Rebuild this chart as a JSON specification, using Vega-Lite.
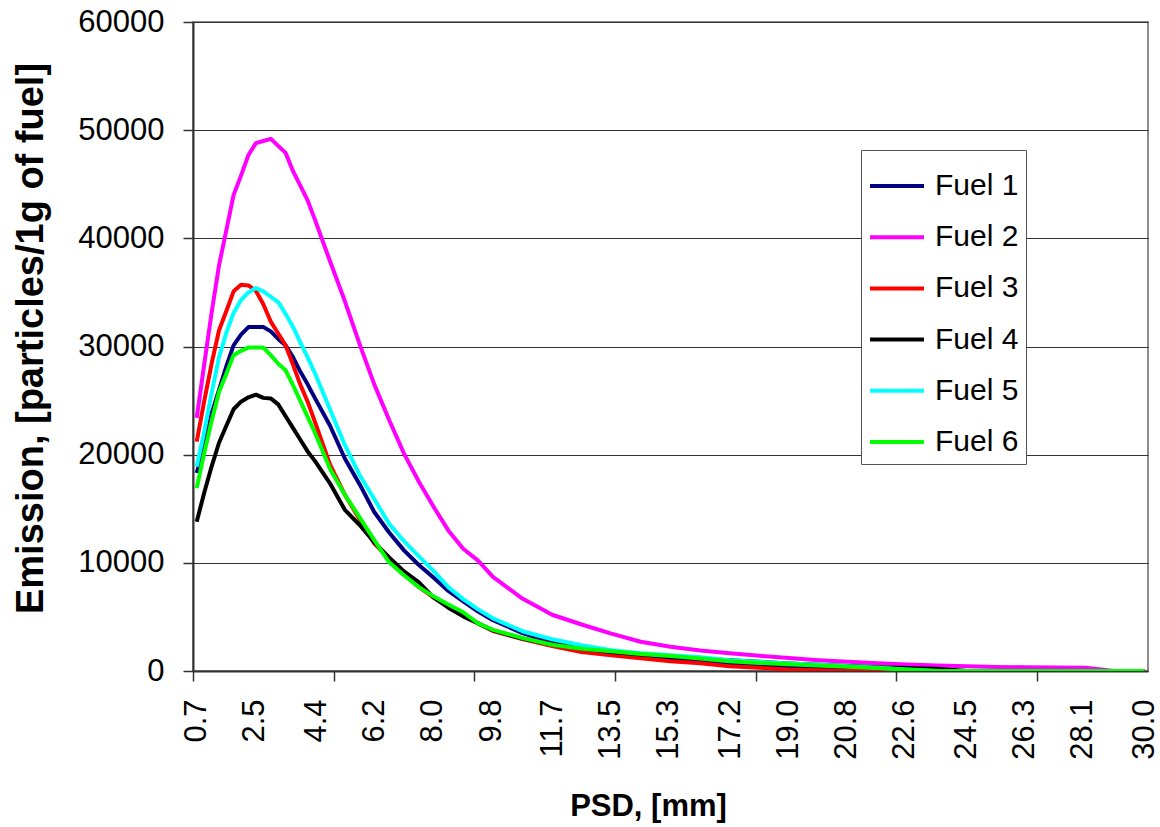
{
  "$schema": "https://vega.github.io/schema/vega-lite/v6.json",
  "autosize": "none",
  "width": 955,
  "height": 649,
  "padding": {"left": 193, "top": 22, "right": 12, "bottom": 156},
  "background": "white",
  "config": {
    "view": {"stroke": "#8c8c8c", "strokeWidth": 2},
    "font": "Liberation Sans"
  },
  "datasets": {
    "psd": [
      {"x":0.70,"s":"Fuel 1","y":18300},{"x":0.93,"s":"Fuel 1","y":20700},{"x":1.16,"s":"Fuel 1","y":23800},{"x":1.39,"s":"Fuel 1","y":26000},{"x":1.62,"s":"Fuel 1","y":28200},{"x":1.84,"s":"Fuel 1","y":30100},{"x":2.07,"s":"Fuel 1","y":31100},{"x":2.30,"s":"Fuel 1","y":31800},{"x":2.53,"s":"Fuel 1","y":31800},{"x":2.76,"s":"Fuel 1","y":31800},{"x":2.99,"s":"Fuel 1","y":31400},{"x":3.22,"s":"Fuel 1","y":30700},{"x":3.45,"s":"Fuel 1","y":30100},{"x":3.68,"s":"Fuel 1","y":29000},{"x":3.90,"s":"Fuel 1","y":27700},{"x":4.13,"s":"Fuel 1","y":26500},{"x":4.36,"s":"Fuel 1","y":25200},{"x":4.82,"s":"Fuel 1","y":22700},{"x":5.28,"s":"Fuel 1","y":19650},{"x":5.74,"s":"Fuel 1","y":17250},{"x":6.19,"s":"Fuel 1","y":14700},{"x":6.65,"s":"Fuel 1","y":12800},{"x":7.11,"s":"Fuel 1","y":11150},{"x":7.57,"s":"Fuel 1","y":9800},{"x":8.02,"s":"Fuel 1","y":8650},{"x":8.48,"s":"Fuel 1","y":7400},{"x":8.94,"s":"Fuel 1","y":6450},{"x":9.40,"s":"Fuel 1","y":5500},{"x":9.86,"s":"Fuel 1","y":4700},{"x":10.77,"s":"Fuel 1","y":3500},{"x":11.69,"s":"Fuel 1","y":2650},{"x":12.60,"s":"Fuel 1","y":2100},{"x":13.52,"s":"Fuel 1","y":1650},{"x":14.43,"s":"Fuel 1","y":1350},{"x":15.35,"s":"Fuel 1","y":1100},{"x":16.27,"s":"Fuel 1","y":850},{"x":17.18,"s":"Fuel 1","y":650},{"x":18.10,"s":"Fuel 1","y":530},{"x":19.01,"s":"Fuel 1","y":430},{"x":19.93,"s":"Fuel 1","y":330},{"x":20.84,"s":"Fuel 1","y":250},{"x":21.76,"s":"Fuel 1","y":180},{"x":22.67,"s":"Fuel 1","y":110},{"x":23.59,"s":"Fuel 1","y":50},{"x":24.51,"s":"Fuel 1","y":0},{"x":25.42,"s":"Fuel 1","y":0},{"x":26.34,"s":"Fuel 1","y":0},{"x":27.26,"s":"Fuel 1","y":0},{"x":28.17,"s":"Fuel 1","y":0},{"x":29.08,"s":"Fuel 1","y":0},{"x":30.00,"s":"Fuel 1","y":0},

      {"x":0.70,"s":"Fuel 2","y":23400},{"x":0.93,"s":"Fuel 2","y":28300},{"x":1.16,"s":"Fuel 2","y":33100},{"x":1.39,"s":"Fuel 2","y":37500},{"x":1.62,"s":"Fuel 2","y":40800},{"x":1.84,"s":"Fuel 2","y":44000},{"x":2.07,"s":"Fuel 2","y":45800},{"x":2.30,"s":"Fuel 2","y":47700},{"x":2.53,"s":"Fuel 2","y":48800},{"x":2.76,"s":"Fuel 2","y":49000},{"x":2.99,"s":"Fuel 2","y":49200},{"x":3.22,"s":"Fuel 2","y":48550},{"x":3.45,"s":"Fuel 2","y":47900},{"x":3.68,"s":"Fuel 2","y":46200},{"x":3.90,"s":"Fuel 2","y":44900},{"x":4.13,"s":"Fuel 2","y":43500},{"x":4.36,"s":"Fuel 2","y":41700},{"x":4.82,"s":"Fuel 2","y":37900},{"x":5.28,"s":"Fuel 2","y":34200},{"x":5.74,"s":"Fuel 2","y":30200},{"x":6.19,"s":"Fuel 2","y":26500},{"x":6.65,"s":"Fuel 2","y":23200},{"x":7.11,"s":"Fuel 2","y":20100},{"x":7.57,"s":"Fuel 2","y":17500},{"x":8.02,"s":"Fuel 2","y":15200},{"x":8.48,"s":"Fuel 2","y":13000},{"x":8.94,"s":"Fuel 2","y":11300},{"x":9.40,"s":"Fuel 2","y":10200},{"x":9.86,"s":"Fuel 2","y":8700},{"x":10.77,"s":"Fuel 2","y":6700},{"x":11.69,"s":"Fuel 2","y":5200},{"x":12.60,"s":"Fuel 2","y":4300},{"x":13.52,"s":"Fuel 2","y":3450},{"x":14.43,"s":"Fuel 2","y":2700},{"x":15.35,"s":"Fuel 2","y":2250},{"x":16.27,"s":"Fuel 2","y":1900},{"x":17.18,"s":"Fuel 2","y":1650},{"x":18.10,"s":"Fuel 2","y":1400},{"x":19.01,"s":"Fuel 2","y":1200},{"x":19.93,"s":"Fuel 2","y":1000},{"x":20.84,"s":"Fuel 2","y":850},{"x":21.76,"s":"Fuel 2","y":720},{"x":22.67,"s":"Fuel 2","y":600},{"x":23.59,"s":"Fuel 2","y":500},{"x":24.51,"s":"Fuel 2","y":430},{"x":25.42,"s":"Fuel 2","y":380},{"x":26.34,"s":"Fuel 2","y":350},{"x":27.26,"s":"Fuel 2","y":330},{"x":28.17,"s":"Fuel 2","y":300},{"x":29.08,"s":"Fuel 2","y":0},{"x":30.00,"s":"Fuel 2","y":0},

      {"x":0.70,"s":"Fuel 3","y":21200},{"x":0.93,"s":"Fuel 3","y":24900},{"x":1.16,"s":"Fuel 3","y":28400},{"x":1.39,"s":"Fuel 3","y":31500},{"x":1.62,"s":"Fuel 3","y":33300},{"x":1.84,"s":"Fuel 3","y":35100},{"x":2.07,"s":"Fuel 3","y":35700},{"x":2.30,"s":"Fuel 3","y":35650},{"x":2.53,"s":"Fuel 3","y":35150},{"x":2.76,"s":"Fuel 3","y":33900},{"x":2.99,"s":"Fuel 3","y":32300},{"x":3.22,"s":"Fuel 3","y":31200},{"x":3.45,"s":"Fuel 3","y":30100},{"x":3.68,"s":"Fuel 3","y":28300},{"x":3.90,"s":"Fuel 3","y":26500},{"x":4.13,"s":"Fuel 3","y":24900},{"x":4.36,"s":"Fuel 3","y":23000},{"x":4.82,"s":"Fuel 3","y":19100},{"x":5.28,"s":"Fuel 3","y":16300},{"x":5.74,"s":"Fuel 3","y":14000},{"x":6.19,"s":"Fuel 3","y":11800},{"x":6.65,"s":"Fuel 3","y":10400},{"x":7.11,"s":"Fuel 3","y":9000},{"x":7.57,"s":"Fuel 3","y":7750},{"x":8.02,"s":"Fuel 3","y":6800},{"x":8.48,"s":"Fuel 3","y":6000},{"x":8.94,"s":"Fuel 3","y":5250},{"x":9.40,"s":"Fuel 3","y":4400},{"x":9.86,"s":"Fuel 3","y":3700},{"x":10.77,"s":"Fuel 3","y":2950},{"x":11.69,"s":"Fuel 3","y":2300},{"x":12.60,"s":"Fuel 3","y":1750},{"x":13.52,"s":"Fuel 3","y":1450},{"x":14.43,"s":"Fuel 3","y":1180},{"x":15.35,"s":"Fuel 3","y":900},{"x":16.27,"s":"Fuel 3","y":720},{"x":17.18,"s":"Fuel 3","y":430},{"x":18.10,"s":"Fuel 3","y":300},{"x":19.01,"s":"Fuel 3","y":150},{"x":19.93,"s":"Fuel 3","y":60},{"x":20.84,"s":"Fuel 3","y":0},{"x":21.76,"s":"Fuel 3","y":0},{"x":22.67,"s":"Fuel 3","y":0},{"x":23.59,"s":"Fuel 3","y":0},{"x":24.51,"s":"Fuel 3","y":0},{"x":25.42,"s":"Fuel 3","y":0},{"x":26.34,"s":"Fuel 3","y":0},{"x":27.26,"s":"Fuel 3","y":0},{"x":28.17,"s":"Fuel 3","y":0},{"x":29.08,"s":"Fuel 3","y":0},{"x":30.00,"s":"Fuel 3","y":0},

      {"x":0.70,"s":"Fuel 4","y":13800},{"x":0.93,"s":"Fuel 4","y":16450},{"x":1.16,"s":"Fuel 4","y":18900},{"x":1.39,"s":"Fuel 4","y":21100},{"x":1.62,"s":"Fuel 4","y":22700},{"x":1.84,"s":"Fuel 4","y":24200},{"x":2.07,"s":"Fuel 4","y":24900},{"x":2.30,"s":"Fuel 4","y":25300},{"x":2.53,"s":"Fuel 4","y":25550},{"x":2.76,"s":"Fuel 4","y":25250},{"x":2.99,"s":"Fuel 4","y":25200},{"x":3.22,"s":"Fuel 4","y":24650},{"x":3.45,"s":"Fuel 4","y":23550},{"x":3.68,"s":"Fuel 4","y":22450},{"x":3.90,"s":"Fuel 4","y":21400},{"x":4.13,"s":"Fuel 4","y":20300},{"x":4.36,"s":"Fuel 4","y":19400},{"x":4.82,"s":"Fuel 4","y":17350},{"x":5.28,"s":"Fuel 4","y":14900},{"x":5.74,"s":"Fuel 4","y":13500},{"x":6.19,"s":"Fuel 4","y":11900},{"x":6.65,"s":"Fuel 4","y":10500},{"x":7.11,"s":"Fuel 4","y":9200},{"x":7.57,"s":"Fuel 4","y":8200},{"x":8.02,"s":"Fuel 4","y":6800},{"x":8.48,"s":"Fuel 4","y":5850},{"x":8.94,"s":"Fuel 4","y":5050},{"x":9.40,"s":"Fuel 4","y":4400},{"x":9.86,"s":"Fuel 4","y":3750},{"x":10.77,"s":"Fuel 4","y":3000},{"x":11.69,"s":"Fuel 4","y":2450},{"x":12.60,"s":"Fuel 4","y":2080},{"x":13.52,"s":"Fuel 4","y":1750},{"x":14.43,"s":"Fuel 4","y":1520},{"x":15.35,"s":"Fuel 4","y":1340},{"x":16.27,"s":"Fuel 4","y":1150},{"x":17.18,"s":"Fuel 4","y":1000},{"x":18.10,"s":"Fuel 4","y":850},{"x":19.01,"s":"Fuel 4","y":700},{"x":19.93,"s":"Fuel 4","y":580},{"x":20.84,"s":"Fuel 4","y":460},{"x":21.76,"s":"Fuel 4","y":350},{"x":22.67,"s":"Fuel 4","y":270},{"x":23.59,"s":"Fuel 4","y":200},{"x":24.51,"s":"Fuel 4","y":0},{"x":25.42,"s":"Fuel 4","y":0},{"x":26.34,"s":"Fuel 4","y":0},{"x":27.26,"s":"Fuel 4","y":0},{"x":28.17,"s":"Fuel 4","y":0},{"x":29.08,"s":"Fuel 4","y":0},{"x":30.00,"s":"Fuel 4","y":0},

      {"x":0.70,"s":"Fuel 5","y":18900},{"x":0.93,"s":"Fuel 5","y":22100},{"x":1.16,"s":"Fuel 5","y":25700},{"x":1.39,"s":"Fuel 5","y":29000},{"x":1.62,"s":"Fuel 5","y":31300},{"x":1.84,"s":"Fuel 5","y":33100},{"x":2.07,"s":"Fuel 5","y":34300},{"x":2.30,"s":"Fuel 5","y":35000},{"x":2.53,"s":"Fuel 5","y":35400},{"x":2.76,"s":"Fuel 5","y":35100},{"x":2.99,"s":"Fuel 5","y":34600},{"x":3.22,"s":"Fuel 5","y":34100},{"x":3.45,"s":"Fuel 5","y":33000},{"x":3.68,"s":"Fuel 5","y":31800},{"x":3.90,"s":"Fuel 5","y":30400},{"x":4.13,"s":"Fuel 5","y":29000},{"x":4.36,"s":"Fuel 5","y":27500},{"x":4.82,"s":"Fuel 5","y":24200},{"x":5.28,"s":"Fuel 5","y":20900},{"x":5.74,"s":"Fuel 5","y":18100},{"x":6.19,"s":"Fuel 5","y":15900},{"x":6.65,"s":"Fuel 5","y":13600},{"x":7.11,"s":"Fuel 5","y":12000},{"x":7.57,"s":"Fuel 5","y":10600},{"x":8.02,"s":"Fuel 5","y":9250},{"x":8.48,"s":"Fuel 5","y":7750},{"x":8.94,"s":"Fuel 5","y":6650},{"x":9.40,"s":"Fuel 5","y":5700},{"x":9.86,"s":"Fuel 5","y":4870},{"x":10.77,"s":"Fuel 5","y":3680},{"x":11.69,"s":"Fuel 5","y":2940},{"x":12.60,"s":"Fuel 5","y":2380},{"x":13.52,"s":"Fuel 5","y":1920},{"x":14.43,"s":"Fuel 5","y":1640},{"x":15.35,"s":"Fuel 5","y":1450},{"x":16.27,"s":"Fuel 5","y":1270},{"x":17.18,"s":"Fuel 5","y":1000},{"x":18.10,"s":"Fuel 5","y":850},{"x":19.01,"s":"Fuel 5","y":700},{"x":19.93,"s":"Fuel 5","y":580},{"x":20.84,"s":"Fuel 5","y":450},{"x":21.76,"s":"Fuel 5","y":300},{"x":22.67,"s":"Fuel 5","y":150},{"x":23.59,"s":"Fuel 5","y":0},{"x":24.51,"s":"Fuel 5","y":0},{"x":25.42,"s":"Fuel 5","y":0},{"x":26.34,"s":"Fuel 5","y":0},{"x":27.26,"s":"Fuel 5","y":0},{"x":28.17,"s":"Fuel 5","y":0},{"x":29.08,"s":"Fuel 5","y":0},{"x":30.00,"s":"Fuel 5","y":0},

      {"x":0.70,"s":"Fuel 6","y":16900},{"x":0.93,"s":"Fuel 6","y":20100},{"x":1.16,"s":"Fuel 6","y":23100},{"x":1.39,"s":"Fuel 6","y":25800},{"x":1.62,"s":"Fuel 6","y":27500},{"x":1.84,"s":"Fuel 6","y":29200},{"x":2.07,"s":"Fuel 6","y":29600},{"x":2.30,"s":"Fuel 6","y":29900},{"x":2.53,"s":"Fuel 6","y":29900},{"x":2.76,"s":"Fuel 6","y":29900},{"x":2.99,"s":"Fuel 6","y":29200},{"x":3.22,"s":"Fuel 6","y":28400},{"x":3.45,"s":"Fuel 6","y":27800},{"x":3.68,"s":"Fuel 6","y":26400},{"x":3.90,"s":"Fuel 6","y":25000},{"x":4.13,"s":"Fuel 6","y":23500},{"x":4.36,"s":"Fuel 6","y":22000},{"x":4.82,"s":"Fuel 6","y":18700},{"x":5.28,"s":"Fuel 6","y":16300},{"x":5.74,"s":"Fuel 6","y":14200},{"x":6.19,"s":"Fuel 6","y":12100},{"x":6.65,"s":"Fuel 6","y":10050},{"x":7.11,"s":"Fuel 6","y":8850},{"x":7.57,"s":"Fuel 6","y":7750},{"x":8.02,"s":"Fuel 6","y":6900},{"x":8.48,"s":"Fuel 6","y":6150},{"x":8.94,"s":"Fuel 6","y":5430},{"x":9.40,"s":"Fuel 6","y":4400},{"x":9.86,"s":"Fuel 6","y":3800},{"x":10.77,"s":"Fuel 6","y":3050},{"x":11.69,"s":"Fuel 6","y":2430},{"x":12.60,"s":"Fuel 6","y":2060},{"x":13.52,"s":"Fuel 6","y":1830},{"x":14.43,"s":"Fuel 6","y":1580},{"x":15.35,"s":"Fuel 6","y":1380},{"x":16.27,"s":"Fuel 6","y":1160},{"x":17.18,"s":"Fuel 6","y":900},{"x":18.10,"s":"Fuel 6","y":750},{"x":19.01,"s":"Fuel 6","y":620},{"x":19.93,"s":"Fuel 6","y":500},{"x":20.84,"s":"Fuel 6","y":400},{"x":21.76,"s":"Fuel 6","y":280},{"x":22.67,"s":"Fuel 6","y":120},{"x":23.59,"s":"Fuel 6","y":0},{"x":24.51,"s":"Fuel 6","y":0},{"x":25.42,"s":"Fuel 6","y":0},{"x":26.34,"s":"Fuel 6","y":0},{"x":27.26,"s":"Fuel 6","y":0},{"x":28.17,"s":"Fuel 6","y":0},{"x":29.08,"s":"Fuel 6","y":0},{"x":30.00,"s":"Fuel 6","y":0}
    ]
  },
  "data": {"name": "psd"},
  "mark": {"type": "line", "strokeWidth": 4, "strokeJoin": "round", "clip": true},
  "encoding": {
    "x": {
      "field": "x",
      "type": "quantitative",
      "scale": {"domain": [0.5855, 30.1145], "nice": false, "zero": false},
      "axis": {
        "title": "PSD, [mm]",
        "values": [0.5855, 0.7, 2.5, 4.4, 4.935, 6.2, 8.0, 9.284, 9.8, 11.7, 13.5, 13.633, 15.3, 17.2, 17.982, 19.0, 20.8, 22.331, 22.6, 24.5, 26.3, 26.68, 28.1, 30.0],
        "labelExpr": "indexof([0.5855,4.935,9.284,13.633,17.982,22.331,26.68], datum.value) >= 0 ? '' : format(datum.value, '.1f')",
        "tickOpacity": {"condition": {"test": "indexof([0.5855,4.935,9.284,13.633,17.982,22.331,26.68], datum.value) >= 0", "value": 1}, "value": 0},
        "grid": false,
        "labelAngle": 270,
        "labelAlign": "right",
        "labelBaseline": "middle",
        "labelFontSize": 31,
        "labelColor": "black",
        "labelPadding": 18,
        "labelOverlap": false,
        "labelFlush": false,
        "labelBound": false,
        "tickSize": 10,
        "tickColor": "#333333",
        "tickWidth": 1.5,
        "domainColor": "#333333",
        "domainWidth": 2,
        "titleFontSize": 31,
        "titleFontWeight": "bold",
        "titleColor": "black",
        "titleX": 455,
        "titleY": 144,
        "titleBaseline": "alphabetic",
        "titleAlign": "center"
      }
    },
    "y": {
      "field": "y",
      "type": "quantitative",
      "scale": {"domain": [0, 60000], "nice": false},
      "axis": {
        "title": "Emission, [particles/1g of fuel]",
        "values": [0, 10000, 20000, 30000, 40000, 50000, 60000],
        "format": "d",
        "labelFontSize": 31,
        "labelColor": "black",
        "labelPadding": 19,
        "tickSize": 10,
        "tickColor": "#333333",
        "tickWidth": 1.5,
        "domainColor": "#333333",
        "domainWidth": 2,
        "gridColor": "#333333",
        "gridWidth": 1,
        "titleFontSize": 38,
        "titleFontWeight": "bold",
        "titleColor": "black",
        "titleAngle": 270,
        "titleX": -162,
        "titleY": 316,
        "titleBaseline": "middle",
        "titleAlign": "center"
      }
    },
    "color": {
      "field": "s",
      "type": "nominal",
      "scale": {
        "domain": ["Fuel 1", "Fuel 2", "Fuel 3", "Fuel 4", "Fuel 5", "Fuel 6"],
        "range": ["#000080", "#FF00FF", "#FF0000", "#000000", "#00FFFF", "#00FF00"]
      },
      "legend": {
        "orient": "none",
        "legendX": 668,
        "legendY": 128,
        "title": null,
        "labelFontSize": 30,
        "labelColor": "black",
        "symbolType": "stroke",
        "symbolSize": 2916,
        "symbolStrokeWidth": 4,
        "labelOffset": 9,
        "padding": 7,
        "rowPadding": 7.2,
        "strokeColor": "#555555",
        "fillColor": "white"
      }
    }
  }
}
